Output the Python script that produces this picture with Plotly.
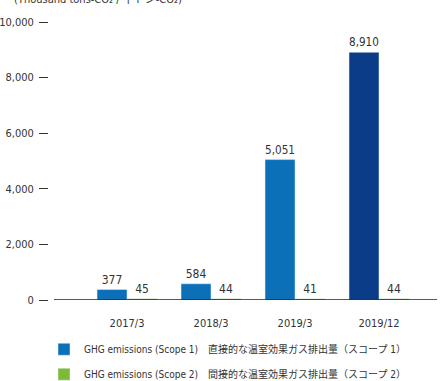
import plotly.graph_objects as go

categories = ["2017/3", "2018/3", "2019/3", "2019/12"]
scope1 = [377, 584, 5051, 8910]
scope2 = [45, 44, 41, 44]
scope1_colors = ["#0b70b8", "#0b70b8", "#0b70b8", "#0a3c87"]
scope2_color = "#7cbc35"
name1 = "GHG emissions (Scope 1)\u3000直接的な温室効果ガス排出量（スコープ 1）"
name2 = "GHG emissions (Scope 2)\u3000間接的な温室効果ガス排出量（スコープ 2）"
unit_label = "(Thousand tons-CO\u2082 / 千トン-CO\u2082)"
y_ticks = [0, 2000, 4000, 6000, 8000, 10000]

FONT = "DejaVu Sans Condensed, Liberation Sans Narrow, Noto Sans CJK JP, sans-serif"
TXT = "#333333"

fig = go.Figure()
fig.add_trace(go.Bar(
    x=categories, y=scope1, name=name1, marker_color=scope1_colors,
    text=[f"{v:,}" for v in scope1], textposition="outside",
    textfont=dict(size=12, color=TXT, family=FONT), cliponaxis=False,
    legendgroup="a",
))
fig.add_trace(go.Bar(
    x=categories, y=scope2, name=name2, marker_color=scope2_color,
    text=[f"{v:,}" for v in scope2], textposition="outside",
    textfont=dict(size=12, color=TXT, family=FONT), cliponaxis=False,
    legendgroup="b",
))

fig.update_layout(
    width=441, height=381,
    margin=dict(l=49, r=0, t=22, b=81, autoexpand=False),
    paper_bgcolor="white", plot_bgcolor="white",
    barmode="group", bargap=0.286, bargroupgap=0,
    font=dict(family=FONT, size=12, color=TXT),
    showlegend=True,
    legend=dict(
        orientation="v", x=-5/392, xanchor="left", y=-0.125, yanchor="top",
        font=dict(size=10, color=TXT, family=FONT),
        tracegroupgap=6, bgcolor="rgba(0,0,0,0)",
    ),
    xaxis=dict(
        type="category", range=[-0.929, 3.738],
        showline=False, showgrid=False, ticks="",
        ticklabelstandoff=15, tickfont=dict(size=11, color=TXT),
    ),
    yaxis=dict(
        range=[0, 10000], tickvals=y_ticks, tickformat=",",
        showgrid=False, showline=False, zeroline=False,
        ticks="outside", ticklen=9, tickwidth=1, tickcolor=TXT,
        ticklabelstandoff=3, tickfont=dict(size=11, color=TXT),
    ),
    shapes=[dict(type="line", xref="paper", yref="y", x0=5/392, x1=0.99,
                 y0=0, y1=0, line=dict(color="#222222", width=1.5))],
    annotations=[dict(text=unit_label, xref="paper", yref="paper", x=-37/392,
                      xanchor="left", y=1, yanchor="bottom", yshift=14,
                      showarrow=False, font=dict(size=11, color=TXT))],
)

fig.write_html("out.html", config={"displayModeBar": False},
               post_script="document.body.style.margin='0';")
